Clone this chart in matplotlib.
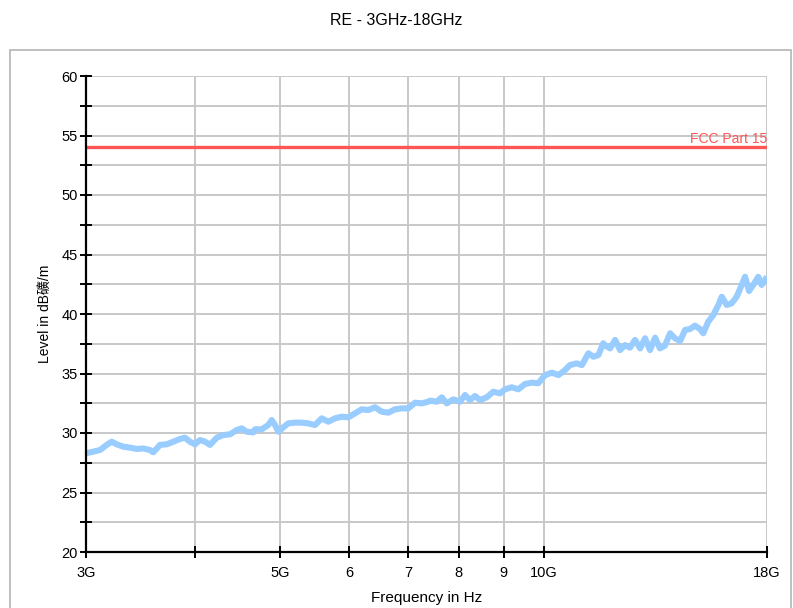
import matplotlib
matplotlib.use('Agg')
import matplotlib.pyplot as plt
from matplotlib.patches import Rectangle

# trace: frequency in GHz, level in dBuV/m
freq_ghz = [3.000, 3.058, 3.113, 3.168, 3.210, 3.252, 3.309, 3.368, 3.428, 3.488,
            3.550, 3.581, 3.645, 3.710, 3.775, 3.842, 3.893, 3.944, 3.996, 4.049,
            4.103, 4.157, 4.231, 4.305, 4.382, 4.460, 4.519, 4.579, 4.659, 4.680,
            4.763, 4.846, 4.890, 4.933, 4.976, 5.042, 5.108, 5.199, 5.292, 5.384,
            5.480, 5.578, 5.675, 5.776, 5.879, 5.982, 6.088, 6.197, 6.305, 6.417,
            6.532, 6.646, 6.764, 6.885, 7.005, 7.130, 7.257, 7.384, 7.417, 7.549,
            7.649, 7.750, 7.886, 8.026, 8.132, 8.240, 8.349, 8.460, 8.610, 8.761,
            8.917, 9.035, 9.195, 9.357, 9.523, 9.692, 9.862, 10.04, 10.22, 10.40,
            10.58, 10.72, 10.91, 11.06, 11.25, 11.40, 11.55, 11.70, 11.75, 11.91,
            12.07, 12.23, 12.39, 12.55, 12.72, 12.89, 13.06, 13.23, 13.41, 13.58,
            13.76, 13.95, 14.13, 14.32, 14.51, 14.70, 14.89, 15.09, 15.22, 15.42,
            15.63, 15.84, 15.98, 16.19, 16.40, 16.62, 16.84, 16.99, 17.17, 17.36,
            17.59, 17.75, 18.00]
level = [28.30, 28.43, 28.57, 29.00, 29.27, 29.05, 28.85, 28.77, 28.66, 28.70,
         28.57, 28.38, 29.00, 29.05, 29.27, 29.50, 29.60, 29.27, 29.05, 29.41,
         29.27, 29.00, 29.60, 29.83, 29.89, 30.25, 30.39, 30.11, 30.05, 30.31,
         30.31, 30.67, 31.09, 30.67, 30.11, 30.48, 30.81, 30.87, 30.87, 30.81,
         30.67, 31.23, 30.95, 31.23, 31.37, 31.32, 31.65, 31.99, 31.93, 32.16,
         31.79, 31.71, 31.99, 32.07, 32.07, 32.55, 32.49, 32.63, 32.72, 32.63,
         33.00, 32.49, 32.83, 32.63, 33.19, 32.77, 33.11, 32.77, 33.00, 33.47,
         33.33, 33.67, 33.84, 33.67, 34.12, 34.23, 34.18, 34.87, 35.07, 34.87,
         35.29, 35.71, 35.85, 35.71, 36.70, 36.41, 36.55, 37.54, 37.39, 37.11,
         37.82, 36.97, 37.39, 37.17, 37.82, 37.11, 37.96, 36.97, 38.01, 37.11,
         37.34, 38.38, 37.96, 37.73, 38.66, 38.74, 39.02, 38.74, 38.38, 39.35,
         39.92, 40.76, 41.45, 40.76, 40.90, 41.45, 42.44, 43.13, 41.93, 42.44,
         43.13, 42.44, 43.13]

limit_level = 54
limit_name = 'FCC Part 15'

x_ticks = [3, 4, 5, 6, 7, 8, 9, 10, 18]
x_labels = ['3G', '', '5G', '6', '7', '8', '9', '10G', '18G']

plt.rcParams['font.family'] = ['Liberation Sans', 'Noto Sans CJK SC', 'DejaVu Sans']

fig = plt.figure(figsize=(7.93, 6.08), dpi=100)
# light frame around the plot area
fig.patches.append(Rectangle((10 / 793, -0.05), 781 / 793, 1.05 - 50 / 608,
                             transform=fig.transFigure, fill=False,
                             edgecolor='#b4b4b4', linewidth=1.2))

ax = fig.add_axes([86 / 793, 56 / 608, 681 / 793, 476 / 608])
ax.set_xscale('log')
ax.set_xlim(3, 18)
ax.set_ylim(20, 60)

ax.plot(freq_ghz, level, color='#99ccff', linewidth=4.4, solid_joinstyle='round',
        solid_capstyle='butt', zorder=3)
ax.axhline(limit_level, color='#ff5555', linewidth=2.4, zorder=4)
ax.text(18, limit_level + 0.15, limit_name, color='#ff5555', fontsize=10,
        ha='right', va='bottom', zorder=5)

ax.set_xticks(x_ticks)
ax.set_xticklabels(x_labels)
ax.xaxis.set_minor_locator(matplotlib.ticker.NullLocator())
ax.set_yticks(range(20, 61, 5))
ax.set_yticks([22.5 + 5 * i for i in range(8)], minor=True)

ax.grid(True, which='both', color='#c8c8c8', linewidth=1.4, zorder=1)
ax.set_axisbelow(True)
ax.tick_params(which='both', direction='inout', length=8, width=1.4, color='black',
               labelsize=10.5)
ax.tick_params(axis='x', pad=6)
ax.tick_params(axis='y', pad=2)

for side in ['top', 'right']:
    ax.spines[side].set_visible(False)
for side in ['left', 'bottom']:
    ax.spines[side].set_linewidth(1.6)
    ax.spines[side].set_zorder(6)

ax.set_xlabel('Frequency in Hz', fontsize=11, labelpad=8)
ax.set_ylabel('Level in dB礦/m', fontsize=10, labelpad=7)
fig.suptitle('RE - 3GHz-18GHz', fontsize=11.5, y=0.979)

plt.savefig('out.png', dpi=100)
plt.close()
